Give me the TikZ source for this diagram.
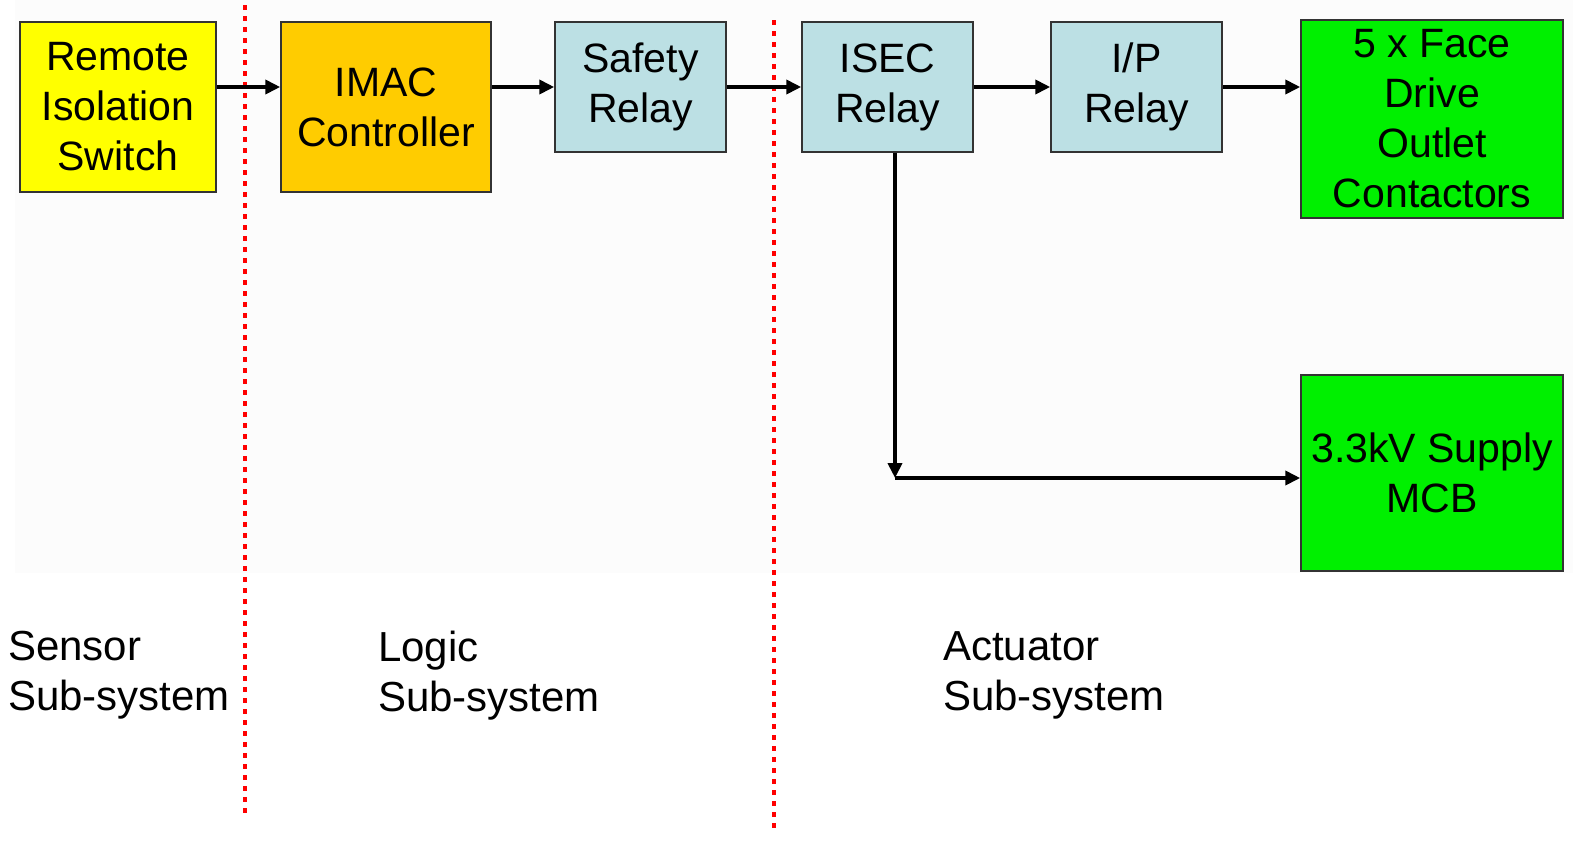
\documentclass[tikz,border=0pt]{standalone}
\usepackage{fontspec}
\setmainfont{Liberation Sans}
\usetikzlibrary{arrows.meta,calc}
\definecolor{swyellow}{HTML}{FFFF00}
\definecolor{logicorange}{HTML}{FFCC00}
\definecolor{relayblue}{HTML}{BCE0E4}
\definecolor{outgreen}{HTML}{00F000}
\definecolor{boxedge}{HTML}{333333}
\definecolor{panel}{HTML}{FCFCFC}
\tikzset{
  blk/.style={draw=boxedge, line width=1.5pt, align=center, inner sep=0pt,
    font=\fontsize{41}{50}\selectfont},
  flow/.style={line width=4.5pt, -{Triangle[length=15pt,width=14pt]}},
  divider/.style={red, line width=4.5pt, dash pattern=on 4.5pt off 6.5pt},
  zone/.style={anchor=north west, align=left, inner sep=0pt,
    font=\fontsize{42}{50}\selectfont}
}
\begin{document}
\begin{tikzpicture}[x=1pt,y=-1pt]
\useasboundingbox (0,0) rectangle (1573,841);
\fill[panel] (15,0) rectangle (1573,573);

% subsystem boundaries
\draw[divider] (245,5) -- (245,818);
\draw[divider] (774,20) -- (774,834);

% blocks
\node[blk, fill=swyellow, minimum width=196pt, minimum height=170pt] (ris) at (118,107) {Remote\\Isolation\\Switch};
\node[blk, fill=logicorange, minimum width=210pt, minimum height=170pt] (imac) at (386,107) {IMAC\\Controller};
\node[blk, fill=relayblue, minimum width=171pt, minimum height=130pt] (safety) at (640.5,87) {Safety\\Relay};
\node[blk, fill=relayblue, minimum width=171pt, minimum height=130pt] (isec) at (887.5,87) {ISEC\\Relay};
\node[blk, fill=relayblue, minimum width=171pt, minimum height=130pt] (ip) at (1136.5,87) {I/P\\Relay};
\node[blk, fill=outgreen, minimum width=262pt, minimum height=198pt] (face) at (1432,119) {5 x Face\\Drive\\Outlet\\Contactors};
\node[blk, fill=outgreen, minimum width=262pt, minimum height=196pt] (mcb) at (1432,473) {3.3kV Supply\\MCB};

% signal path
\coordinate (tap) at (895,478);
\draw[flow] (ris.east |- 0,87) -- (imac.west |- 0,87);
\draw[flow] (imac.east |- 0,87) -- (safety.west);
\draw[flow] (safety.east) -- (isec.west);
\draw[flow] (isec.east) -- (ip.west);
\draw[flow] (ip.east) -- (face.west |- 0,87);
\draw[flow] (isec.south -| tap) -- (tap);
\draw[flow] (tap) -- (mcb.west |- tap);

% subsystem labels
\node[zone] (sensor) at (8,631) {Sensor\\Sub-system};
\node[zone] (logic) at (378,631) {Logic\\Sub-system};
\node[zone] (actuator) at (943,631) {Actuator\\Sub-system};
\end{tikzpicture}
\end{document}
